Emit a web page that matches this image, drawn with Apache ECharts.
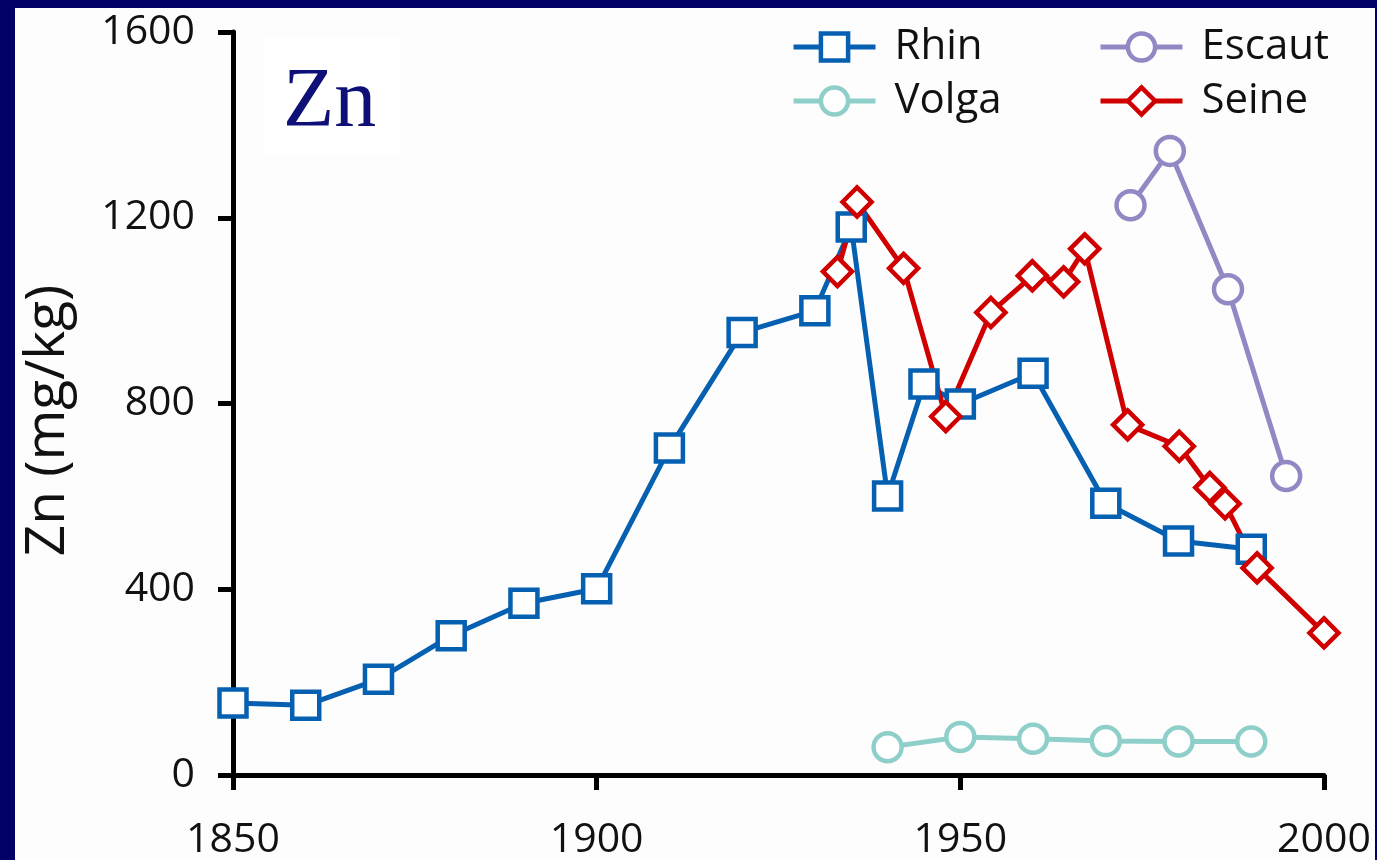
<!DOCTYPE html>
<html>
<head>
<meta charset="utf-8">
<script src="https://cdn.jsdelivr.net/npm/echarts@6/dist/echarts.min.js"></script>
<style>
  html, body { margin: 0; padding: 0; background: #000066; }
  body { width: 1377px; height: 860px; position: relative; overflow: hidden; }
  #chart { position: absolute; left: 15px; top: 8px; width: 1360px; height: 852px; background: #fdfdfd; }
</style>
</head>
<body>
<div id="chart"></div>
<script>
// Zinc concentration in river sediments (mg/kg) by year
const rhinYears = [1850, 1860, 1870, 1880, 1890, 1900, 1910, 1920, 1930, 1935, 1940, 1945, 1950, 1960, 1970, 1980, 1990];
const rhinZn    = [155, 150, 206, 300, 370, 401, 704, 953, 1000, 1180, 601, 842, 799, 865, 585, 504, 486];

const volgaYears = [1940, 1950, 1960, 1970, 1980, 1990];
const volgaZn    = [60, 82, 78, 73, 72, 72];

const escautYears = [1973.4, 1978.8, 1986.8, 1994.8];
const escautZn    = [1227, 1344, 1046, 644];

const seineYears = [1933.1, 1935.8, 1942.2, 1948, 1954.2, 1959.9, 1964.2, 1967.1, 1973, 1980.1, 1984.3, 1986.4, 1990.8, 2000];
const seineZn    = [1084, 1234, 1091, 772, 996, 1075, 1062, 1133, 754, 708, 619, 584, 446, 306];

const yearTicks = { min: 1850, max: 2000, step: 50 };
const znTicks = { min: 0, max: 1600, step: 400 };

const pairs = (xs, ys) => xs.map((x, i) => [x, ys[i]]);

const FONT = '"Open Sans", "Noto Sans", sans-serif';
const INK = '#111111';
const plain = v => String(v);

function riverSeries(name, xs, ys, color, symbol, size) {
  return {
    name: name,
    type: 'line',
    data: pairs(xs, ys),
    symbol: symbol,
    symbolSize: size,
    showAllSymbol: true,
    lineStyle: { color: color, width: 5 },
    itemStyle: { color: '#ffffff', borderColor: color, borderWidth: 4.5 },
    emphasis: { disabled: true },
    animation: false
  };
}

const legendBase = {
  orient: 'vertical',
  top: 13,
  itemWidth: 82,
  itemHeight: 34,
  itemGap: 12,
  selectedMode: false,
  lineStyle: { width: 5 },
  itemStyle: { borderWidth: 4.5 },
  textStyle: { fontFamily: FONT, fontSize: 42, color: INK, lineHeight: 42, padding: [0, 0, 0, 14] }
};

const chart = echarts.init(document.getElementById('chart'), null, { renderer: 'canvas' });
chart.setOption({
  animation: false,
  backgroundColor: 'transparent',
  grid: { left: 218, top: 24, width: 1091, height: 743, containLabel: false, outerBoundsMode: 'none' },
  legend: [
    Object.assign({}, legendBase, { left: 771, data: ['Rhin', 'Volga'] }),
    Object.assign({}, legendBase, { left: 1078, data: ['Escaut', 'Seine'] })
  ],
  xAxis: {
    type: 'value',
    min: yearTicks.min,
    max: yearTicks.max,
    interval: yearTicks.step,
    splitLine: { show: false },
    axisLine: { show: true, onZero: false, lineStyle: { color: '#000', width: 5 } },
    axisTick: { show: true, length: 15, lineStyle: { color: '#000', width: 5 } },
    axisLabel: { fontFamily: FONT, fontSize: 41, color: INK, margin: 45, formatter: plain }
  },
  yAxis: {
    type: 'value',
    min: znTicks.min,
    max: znTicks.max,
    interval: znTicks.step,
    name: 'Zn (mg/kg)',
    nameLocation: 'middle',
    nameGap: 157,
    nameTextStyle: { fontFamily: FONT, fontSize: 55, color: INK, padding: [0, 34, 0, 0] },
    splitLine: { show: false },
    axisLine: { show: true, lineStyle: { color: '#000', width: 5 } },
    axisTick: { show: true, length: 15, lineStyle: { color: '#000', width: 5 } },
    axisLabel: { fontFamily: FONT, fontSize: 41, color: INK, margin: 38, formatter: plain }
  },
  graphic: [
    { type: 'rect', left: 250, top: 30, shape: { width: 135, height: 117 }, style: { fill: '#ffffff' }, z: 0, silent: true },
    { type: 'text', left: 268, top: 54, style: { text: 'Zn', font: '84px "Liberation Serif", serif', fill: '#0f0f78' }, z: 10, silent: true }
  ],
  series: [
    riverSeries('Rhin', rhinYears, rhinZn, '#0660b2', 'rect', 27),
    riverSeries('Volga', volgaYears, volgaZn, '#8fcfca', 'circle', 28),
    riverSeries('Escaut', escautYears, escautZn, '#9189c3', 'circle', 28),
    riverSeries('Seine', seineYears, seineZn, '#d10000', 'diamond', 29)
  ]
});
</script>
</body>
</html>
